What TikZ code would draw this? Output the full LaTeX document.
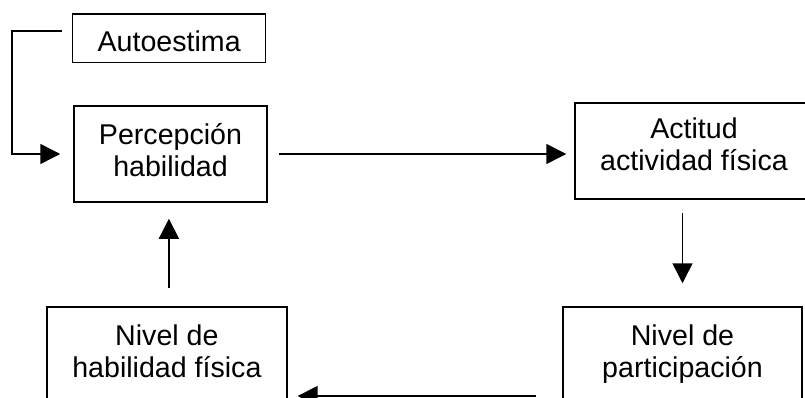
\documentclass[tikz,border=0pt]{standalone}
\usepackage{fontspec}
\setmainfont{Liberation Sans}
\usetikzlibrary{arrows.meta,calc}

\tikzset{
  box/.style={draw=black, line width=1.5pt, rectangle, inner sep=0pt},
  lbl/.style={anchor=base, align=center, inner sep=0pt,
              font=\fontsize{28.6pt}{32pt}\selectfont},
  link/.style={draw=black, line width=1.5pt,
               -{Triangle[length=20pt,width=20pt]}},
}

\begin{document}
\begin{tikzpicture}[x=1pt,y=-1pt]
  \clip (0,0) rectangle (805,398);
  \fill[white] (0,0) rectangle (805,398);

  % boxes
  \node[box, minimum width=193pt, minimum height=48.7pt] (auto) at (169.2,38.4) {};
  \node[box, minimum width=193pt, minimum height=96pt]   (perc) at (170.5,154) {};
  \node[box, minimum width=238pt, minimum height=96pt]   (acti) at (694,151) {};
  \node[box, minimum width=239pt, minimum height=96pt]   (part) at (682.5,355) {};
  \node[box, minimum width=240pt, minimum height=96pt]   (habf) at (166.9,355) {};

  % texts (anchored on the baseline of the last line)
  \node[lbl] (autoT) at (169.2,51.7)  {Autoestima};
  \node[lbl] (percT) at (170.5,176)   {Percepción\\habilidad};
  \node[lbl] (actiT) at (694,171)     {Actitud\\actividad física};
  \node[lbl] (partT) at (682.5,377)   {Nivel de\\participación};
  \node[lbl] (habfT) at (166.9,377)   {Nivel de\\habilidad física};

  % helper points
  \coordinate (aS) at (62,31);
  \coordinate (aC) at (12,31);
  \coordinate (lowrow) at (0,396);
  \coordinate (upx) at ($(habf.north)+(2,0)$);

  % connectors
  \draw[link] (aS) -- (aC) |- ($(perc.west)+(-13,0)$);
  \draw[link, shorten <=11pt, shorten >=8pt] (perc.east) -- (acti.west |- perc.east);
  \draw[link, shorten <=13pt, shorten >=23pt] (part.north |- acti.south) -- (part.north);
  \draw[link, shorten <=26pt, shorten >=10pt] (part.west |- lowrow) -- (habf.east |- lowrow);
  \draw[link, shorten <=18pt, shorten >=16pt] (upx) -- (upx |- perc.south);
\end{tikzpicture}
\end{document}
